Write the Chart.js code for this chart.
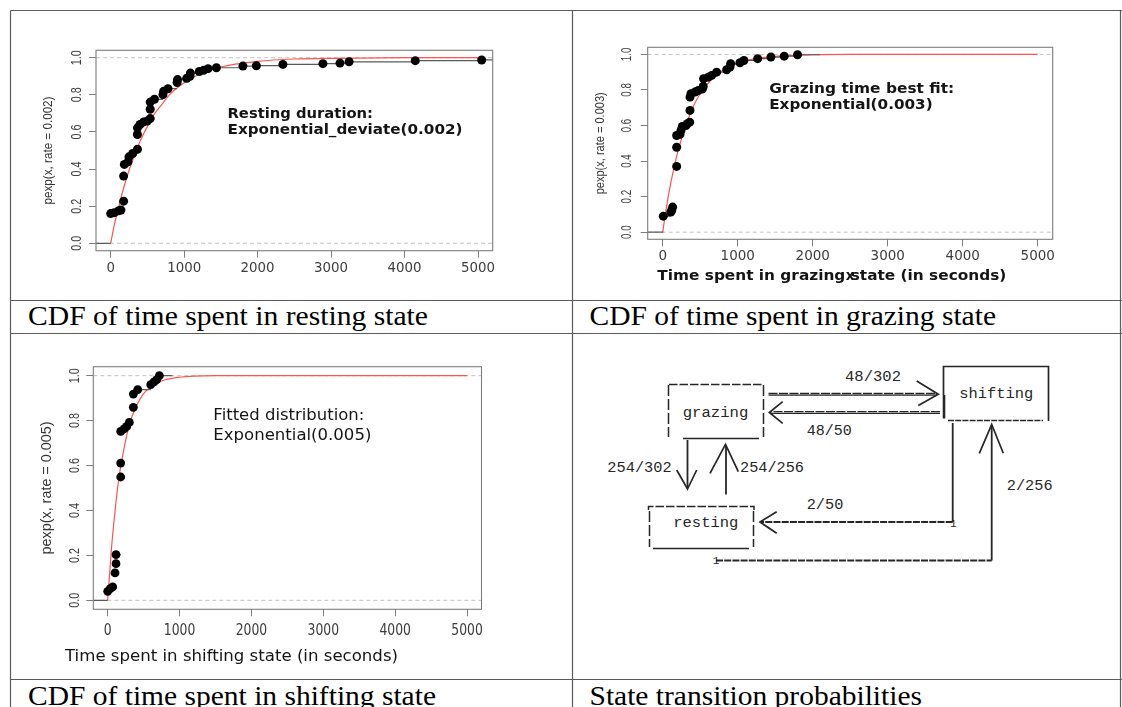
<!DOCTYPE html>
<html lang="en">
<head>
<meta charset="utf-8">
<title>Time budget CDFs and state transitions</title>
<script src="https://cdn.jsdelivr.net/npm/chart.js@4.4.1/dist/chart.umd.min.js"></script>
<style>
  html, body { margin: 0; padding: 0; background: #fff; }
  #page { position: relative; width: 1122px; height: 707px; overflow: hidden; }
  #sheet, canvas { position: absolute; left: 0; top: 0; }
  .cap { font-family: 'Liberation Serif', 'DejaVu Serif', serif; font-size: 27px; fill: #000; }
  .mono { font-family: 'Liberation Mono', 'DejaVu Sans Mono', monospace; font-size: 15.5px; fill: #262626; }
</style>
</head>
<body>
<div id="page">
<svg id="sheet" width="1122" height="707" xmlns="http://www.w3.org/2000/svg">
  <!-- table rules -->
  <g stroke="#5a5a5a" stroke-width="1.2" fill="none">
    <line x1="10.5" y1="10.5" x2="1122" y2="10.5"/>
    <line x1="10.5" y1="10.5" x2="10.5" y2="707"/>
    <line x1="572.5" y1="10.5" x2="572.5" y2="707"/>
    <line x1="1120.5" y1="10.5" x2="1120.5" y2="707"/>
    <line x1="10.5" y1="300.5" x2="1122" y2="300.5"/>
    <line x1="10.5" y1="333.5" x2="1122" y2="333.5"/>
    <line x1="10.5" y1="679.5" x2="1122" y2="679.5"/>
  </g>

  <!-- cell captions -->
  <text class="cap" x="28" y="324.5" textLength="400" lengthAdjust="spacingAndGlyphs">CDF of time spent in resting state</text>
  <text class="cap" x="589.5" y="324.5" textLength="406.5" lengthAdjust="spacingAndGlyphs">CDF of time spent in grazing state</text>
  <text class="cap" x="28" y="705" textLength="408" lengthAdjust="spacingAndGlyphs">CDF of time spent in shifting state</text>
  <text class="cap" x="589.5" y="705" textLength="332.5" lengthAdjust="spacingAndGlyphs">State transition probabilities</text>

  <!-- state transition diagram -->
  <g stroke="#262626" fill="none" stroke-width="1.5">
    <!-- grazing -->
    <line x1="669" y1="384.5" x2="763" y2="384.5" stroke-dasharray="8.5 2"/>
    <line x1="668.5" y1="385" x2="668.5" y2="437" stroke-dasharray="11 3"/>
    <line x1="763.5" y1="385" x2="763.5" y2="437" stroke-dasharray="11 3"/>
    <line x1="683" y1="438.5" x2="759" y2="438.5"/>
    <!-- resting -->
    <path d="M648.5 510 V506.5 H754 V510" stroke-dasharray="8.5 2"/>
    <line x1="649.5" y1="511" x2="649.5" y2="547" stroke-dasharray="11 3"/>
    <line x1="753.5" y1="511" x2="753.5" y2="547" stroke-dasharray="11 3"/>
    <line x1="653" y1="548.5" x2="749" y2="548.5"/>
    <!-- shifting -->
    <path d="M943.5 395 V366.5 H1048.5 V421" stroke-width="1.7"/>
    <line x1="944" y1="395" x2="944" y2="418.5" stroke-width="2.6"/>
    <line x1="948" y1="420.5" x2="1043" y2="420.5" stroke-dasharray="6 1.2"/>

    <!-- grazing -> shifting -->
    <line x1="768.5" y1="393.5" x2="937" y2="393.5" stroke-width="1.3" stroke-dasharray="9 1.5"/>
    <line x1="768.5" y1="395.2" x2="937" y2="395.2" stroke-width="1.3"/>
    <polyline points="916.7,381 938.3,394.3 918.3,405.5" stroke-width="1.7"/>
    <!-- shifting -> grazing -->
    <line x1="940" y1="411.7" x2="770" y2="411.7" stroke-width="1.3" stroke-dasharray="9 1.5"/>
    <line x1="940" y1="413.3" x2="770" y2="413.3" stroke-width="1.3"/>
    <polyline points="782.7,401.7 769.3,412.5 782.7,423.3" stroke-width="1.7"/>
    <!-- grazing -> resting -->
    <line x1="687.5" y1="440" x2="687.5" y2="488" stroke-width="1.8"/>
    <polyline points="676.7,470 687.5,489 696.7,470" stroke-width="1.7"/>
    <!-- resting -> grazing -->
    <line x1="726" y1="494.5" x2="726" y2="445" stroke-width="1.8"/>
    <polyline points="710,473.3 725.5,444.3 738.3,471.7" stroke-width="1.7"/>
    <!-- shifting -> resting -->
    <line x1="952.7" y1="423" x2="952.7" y2="522" stroke-width="1.8"/>
    <line x1="952.7" y1="522" x2="761" y2="522" stroke-width="1.8" stroke-dasharray="7 1.2"/>
    <polyline points="776.7,511.7 760,522 776.7,533.3" stroke-width="1.7"/>
    <!-- resting -> shifting -->
    <line x1="716" y1="560.5" x2="991.7" y2="560.5" stroke-width="1.8" stroke-dasharray="7 1.2"/>
    <line x1="991.7" y1="560.5" x2="991.7" y2="425" stroke-width="1.8"/>
    <polyline points="979.3,453.3 991.7,424.5 1003.3,453.3" stroke-width="1.7"/>
  </g>
  <text class="mono" x="682.7" y="416.7" textLength="65.6" lengthAdjust="spacingAndGlyphs">grazing</text>
  <text class="mono" x="673.3" y="526.7" textLength="65" lengthAdjust="spacingAndGlyphs">resting</text>
  <text class="mono" x="959.3" y="398.3" textLength="74" lengthAdjust="spacingAndGlyphs">shifting</text>
  <text class="mono" x="845" y="380.5" textLength="56" lengthAdjust="spacingAndGlyphs">48/302</text>
  <text class="mono" x="806.7" y="435" textLength="45" lengthAdjust="spacingAndGlyphs">48/50</text>
  <text class="mono" x="607.3" y="472" textLength="64.4" lengthAdjust="spacingAndGlyphs">254/302</text>
  <text class="mono" x="740" y="472" textLength="64" lengthAdjust="spacingAndGlyphs">254/256</text>
  <text class="mono" x="806.7" y="509" textLength="36.6" lengthAdjust="spacingAndGlyphs">2/50</text>
  <text class="mono" x="1006.7" y="490" textLength="46" lengthAdjust="spacingAndGlyphs">2/256</text>
  <text class="mono" x="953.3" y="526.7" text-anchor="middle" style="font-size:11px">1</text>
  <text class="mono" x="716" y="564" text-anchor="middle" style="font-size:11px">1</text>
</svg>
<canvas id="restingChart" width="561" height="289" style="left:11px;top:11px"></canvas>
<canvas id="grazingChart" width="547" height="289" style="left:573px;top:11px"></canvas>
<canvas id="shiftingChart" width="561" height="345" style="left:11px;top:334px"></canvas>
</div>

<script>
// axis ticks and limits shared by the three CDF panels
const X_TICKS = [0, 1000, 2000, 3000, 4000, 5000];
const Y_TICKS = [0, 0.2, 0.4, 0.6, 0.8, 1.0];
const X_RANGE = [-200, 5200];
const Y_RANGE = [-0.04, 1.04];

// fitted exponential CDFs, sampled along x (seconds)
const CURVE_X = [0, 50, 100, 150, 200, 300, 400, 500, 600, 700, 800, 1000, 1200, 1500, 2000, 2500, 3000, 4000, 5000];
const RESTING_FIT = [0, 0.10, 0.18, 0.26, 0.33, 0.45, 0.55, 0.63, 0.70, 0.75, 0.80, 0.865, 0.91, 0.95, 0.98, 0.993, 0.997, 1, 1];
const GRAZING_FIT = [0, 0.14, 0.26, 0.36, 0.45, 0.59, 0.70, 0.78, 0.835, 0.88, 0.91, 0.95, 0.973, 0.989, 0.998, 1, 1, 1, 1];
const SHIFTING_FIT = [0, 0.22, 0.39, 0.53, 0.63, 0.78, 0.865, 0.92, 0.95, 0.97, 0.982, 0.993, 0.998, 1, 1, 1, 1, 1, 1];

// empirical CDF: observed durations (s) and cumulative fraction
const RESTING_X = [0, 50, 110, 140, 176, 176, 186, 236, 249, 300, 364, 364, 364, 399, 448, 498, 538, 538, 538, 596,
  711, 720, 780, 904, 910, 1034, 1079, 1085, 1206, 1265, 1325, 1439, 1800, 1983, 2344, 2889, 3121, 3245, 4146, 5050];
const RESTING_F = [0.16, 0.165, 0.175, 0.179, 0.227, 0.362, 0.425, 0.439, 0.466, 0.484, 0.507, 0.586, 0.622, 0.640, 0.654, 0.659, 0.672, 0.722, 0.761, 0.776,
  0.801, 0.819, 0.833, 0.866, 0.882, 0.889, 0.900, 0.917, 0.926, 0.932, 0.941, 0.946, 0.955, 0.957, 0.964, 0.968, 0.971, 0.978, 0.984, 0.988];

const GRAZING_X = [8, 107, 120, 133, 186, 186, 186, 230, 244, 261, 310, 328, 360, 364, 364, 377, 430, 474, 528, 540,
  545, 608, 653, 719, 853, 897, 906, 1030, 1083, 1266, 1443, 1620, 1798];
const GRAZING_F = [0.090, 0.113, 0.122, 0.141, 0.370, 0.478, 0.544, 0.550, 0.572, 0.595, 0.600, 0.610, 0.619, 0.685, 0.760, 0.779, 0.788, 0.797, 0.805, 0.820,
  0.863, 0.872, 0.882, 0.900, 0.914, 0.929, 0.948, 0.953, 0.966, 0.976, 0.985, 0.990, 0.998];

const SHIFTING_X = [0, 35, 70, 102, 116, 116, 181, 181, 181, 227, 265, 301, 357, 357, 418, 599, 645, 683, 719];
const SHIFTING_F = [0.040, 0.052, 0.060, 0.122, 0.163, 0.203, 0.549, 0.611, 0.752, 0.763, 0.774, 0.792, 0.859, 0.918, 0.938, 0.960, 0.972, 0.982, 1.0];

const AXIS_GAP = 10; // room kept for the outward tick marks

const PANELS = [
  {
    id: 'restingChart', cell: [11, 11, 561, 289], box: [96, 50.3, 492.7, 250.7],
    xs: RESTING_X, fs: RESTING_F, fit: RESTING_FIT, tailEnd: 5200, dot: 4.5,
    xTick: { size: 13.5, w: 34, off: 16.5 },
    yTick: { size: 14, len: 15, off: 20.5 },
    yTitle: { text: 'pexp(x, rate = 0.002)', size: 12.5, len: 108, off: 47.5 },
    xTitle: null,
    note: { lines: ['Resting duration:', 'Exponential_deviate(0.002)'], widths: [145.5, 235],
            x: 1590, y: 0.704, gap: 16, font: 'bold 13.5px "DejaVu Sans"', size: 13.5 }
  },
  {
    id: 'grazingChart', cell: [573, 11, 547, 289], box: [647.7, 47.3, 1052.7, 239.3],
    xs: GRAZING_X, fs: GRAZING_F, fit: GRAZING_FIT, tailEnd: 2100, dot: 4.5,
    xTick: { size: 13.5, w: 34.3, off: 15.7 },
    yTick: { size: 14, len: 13.5, off: 21.5 },
    yTitle: { text: 'pexp(x, rate = 0.003)', size: 12.5, len: 102, off: 47.7 },
    xTitle: { text: 'Time spent in grazing state (in seconds)', left: 9.6, w: 349, off: 35.7,
              font: 'bold 13.5px "DejaVu Sans"', size: 13.5, stray: 'x' },
    note: { lines: ['Grazing time best fit:', 'Exponential(0.003)'], widths: [185, 163.4],
            x: 1420, y: 0.808, gap: 15.7, font: 'bold 13.5px "DejaVu Sans"', size: 13.5 }
  },
  {
    id: 'shiftingChart', cell: [11, 334, 561, 345], box: [93.3, 366.7, 481.5, 609.3],
    xs: SHIFTING_X, fs: SHIFTING_F, fit: SHIFTING_FIT, tailEnd: 900, dot: 4.4,
    xTick: { size: 15, w: 31.5, off: 20 },
    yTick: { size: 15, len: 15, off: 20 },
    yTitle: { text: 'pexp(x, rate = 0.005)', size: 14, len: 133, off: 46.5 },
    xTitle: { text: 'Time spent in shifting state (in seconds)', left: -28.3, w: 333, off: 46.7,
              font: '15px "DejaVu Sans"', size: 15 },
    note: { lines: ['Fitted distribution:', 'Exponential(0.005)'], widths: [151, 158],
            x: 1470, y: 0.830, gap: 20.5, font: '16.5px "DejaVu Sans"', size: 16.5 }
  }
];

// draw a string stretched horizontally by k
function fitText(ctx, str, x, y, k, align) {
  const w = ctx.measureText(str).width * k;
  const left = align === 'center' ? x - w / 2 : x;
  ctx.save();
  ctx.translate(left, y);
  ctx.scale(k, 1);
  ctx.fillText(str, 0, 0);
  ctx.restore();
}

// R-style frame: box, tick labels, axis titles and the fit note
const rFrame = {
  id: 'rFrame',
  afterDraw(chart) {
    const p = chart.options.plugins.rFrame;
    const { ctx, chartArea: a } = chart;
    const sx = chart.scales.x, sy = chart.scales.y;
    ctx.save();
    ctx.textAlign = 'left';
    ctx.textBaseline = 'alphabetic';

    ctx.strokeStyle = '#7d7d7d';
    ctx.lineWidth = 1.1;
    ctx.strokeRect(a.left, a.top, a.right - a.left, a.bottom - a.top);

    // x tick labels
    ctx.fillStyle = '#3c3c3c';
    ctx.font = p.xTick.size + 'px "DejaVu Sans"';
    let k = p.xTick.w / ctx.measureText('5000').width;
    const xBase = a.bottom + p.xTick.off + 0.365 * p.xTick.size;
    X_TICKS.forEach(v => fitText(ctx, String(v), sx.getPixelForValue(v), xBase, k, 'center'));

    // y tick labels read upwards, like R's las = 0
    ctx.font = p.yTick.size + 'px "Liberation Sans"';
    k = p.yTick.len / ctx.measureText('0.0').width;
    Y_TICKS.forEach(v => {
      ctx.save();
      ctx.translate(a.left - p.yTick.off, sy.getPixelForValue(v));
      ctx.rotate(-Math.PI / 2);
      fitText(ctx, v.toFixed(1), 0, 0.36 * p.yTick.size, k, 'center');
      ctx.restore();
    });

    // y title
    ctx.fillStyle = '#333';
    ctx.font = p.yTitle.size + 'px "Liberation Sans"';
    k = p.yTitle.len / ctx.measureText(p.yTitle.text).width;
    ctx.save();
    ctx.translate(a.left - p.yTitle.off, (a.top + a.bottom) / 2);
    ctx.rotate(-Math.PI / 2);
    fitText(ctx, p.yTitle.text, 0, 0.3 * p.yTitle.size, k, 'center');
    ctx.restore();

    // x title (the grazing panel still shows curve()'s default "x" under it)
    ctx.fillStyle = '#141414';
    if (p.xTitle) {
      const t = p.xTitle;
      ctx.font = t.font;
      const base = a.bottom + t.off + 0.36 * t.size;
      k = t.w / ctx.measureText(t.text).width;
      fitText(ctx, t.text, a.left + t.left, base, k, 'left');
      if (t.stray) fitText(ctx, t.stray, (a.left + a.right) / 2, base, 1, 'center');
    }

    // fitted-distribution note
    const n = p.note;
    ctx.font = n.font;
    const nx = sx.getPixelForValue(n.x);
    const ny = sy.getPixelForValue(n.y) + 0.36 * n.size;
    n.lines.forEach((str, i) => {
      const kk = n.widths[i] / ctx.measureText(str).width;
      fitText(ctx, str, nx, ny + i * n.gap, kk, 'left');
    });
    ctx.restore();
  }
};

function ecdfSteps(xs, fs, tailEnd) {
  // horizontal pieces only, as plot.ecdf draws them
  const pts = [{ x: X_RANGE[0], y: 0 }, { x: xs[0], y: 0 }, { x: xs[0], y: null }];
  xs.forEach((x, i) => {
    const next = i < xs.length - 1 ? xs[i + 1] : tailEnd;
    pts.push({ x: x, y: fs[i] }, { x: next, y: fs[i] }, { x: next, y: null });
  });
  return pts;
}

function makePanel(p) {
  const [cx, cy, cw, ch] = p.cell;
  const [l, t, r, b] = p.box;
  const el = document.getElementById(p.id);
  const guide = yv => ({
    data: [{ x: X_RANGE[0], y: yv }, { x: X_RANGE[1], y: yv }],
    borderColor: '#c2c2c2', borderWidth: 1, borderDash: [4, 3], pointRadius: 0, order: 4
  });
  new Chart(el, {
    type: 'line',
    data: {
      datasets: [
        {
          type: 'scatter',
          data: p.xs.map((x, i) => ({ x: x, y: p.fs[i] })),
          pointRadius: p.dot, pointBackgroundColor: '#000', pointBorderWidth: 0, order: 0
        },
        {
          data: ecdfSteps(p.xs, p.fs, p.tailEnd),
          borderColor: '#5a5a5a', borderWidth: 1.2, pointRadius: 0, spanGaps: false, order: 1
        },
        {
          data: CURVE_X.map((x, i) => ({ x: x, y: p.fit[i] })),
          borderColor: '#ff5252', borderWidth: 1.2, pointRadius: 0,
          cubicInterpolationMode: 'monotone', order: 2
        },
        guide(0),
        guide(1)
      ]
    },
    options: {
      responsive: false,
      animation: false,
      events: [],
      layout: {
        autoPadding: false,
        padding: { left: l - cx - AXIS_GAP, top: t - cy, right: cx + cw - r, bottom: cy + ch - b - AXIS_GAP }
      },
      plugins: { legend: { display: false }, tooltip: { enabled: false }, rFrame: p },
      scales: {
        x: {
          type: 'linear', min: X_RANGE[0], max: X_RANGE[1],
          afterBuildTicks: s => { s.ticks = X_TICKS.map(v => ({ value: v })); },
          afterFit: s => { s.height = AXIS_GAP; },
          ticks: { display: false },
          grid: { drawOnChartArea: false, tickLength: 7, color: '#7d7d7d' },
          border: { display: false }
        },
        y: {
          type: 'linear', min: Y_RANGE[0], max: Y_RANGE[1],
          afterBuildTicks: s => { s.ticks = Y_TICKS.map(v => ({ value: v })); },
          afterFit: s => { s.width = AXIS_GAP; },
          ticks: { display: false },
          grid: { drawOnChartArea: false, tickLength: 7, color: '#7d7d7d' },
          border: { display: false }
        }
      }
    },
    plugins: [rFrame]
  });
}

PANELS.forEach(makePanel);
</script>
</body>
</html>
